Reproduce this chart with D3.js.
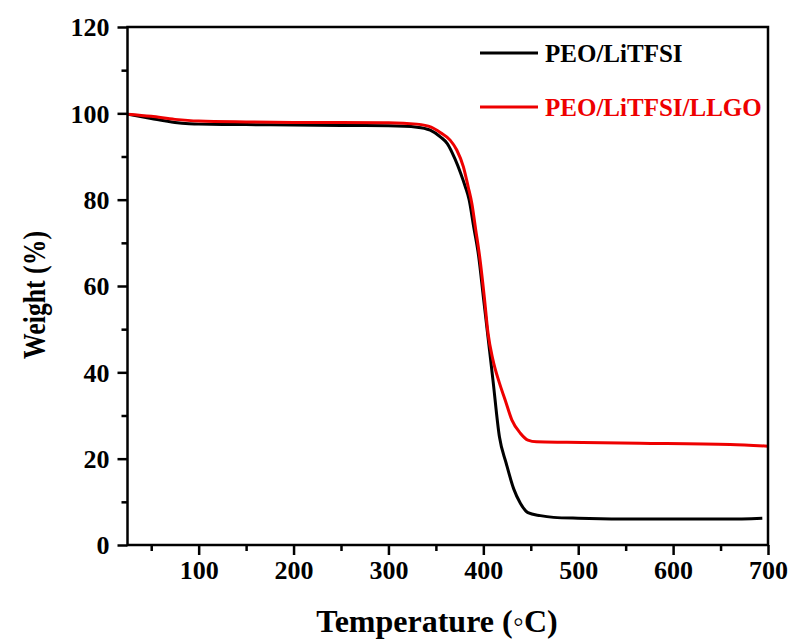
<!DOCTYPE html>
<html>
<head>
<meta charset="utf-8">
<script src="https://cdn.jsdelivr.net/npm/d3@7"></script>
<style>
  html, body { margin: 0; padding: 0; background: #fff; }
  svg text { font-family: "Liberation Serif", "Times New Roman", serif; font-weight: bold; }
</style>
</head>
<body>
<svg id="chart" width="798" height="641"></svg>
<script>
// ---- data ----
const seriesNames = ["PEO/LiTFSI", "PEO/LiTFSI/LLGO"];
const seriesColors = ["#000000", "#ee0000"];

const peoTemp   = [25, 50, 75, 90, 100, 150, 200, 250, 300, 330, 344, 355, 362, 370, 376, 381, 385, 390, 395, 400, 405, 410, 417, 424, 432, 439, 447, 460, 474, 500, 570, 657, 694];
const peoWeight = [99.8, 98.8, 97.9, 97.6, 97.5, 97.4, 97.3, 97.2, 97.1, 96.8, 96.1, 94.5, 93.0, 89.5, 86.2, 83.0, 80.0, 73.5, 67.0, 57.5, 48.0, 38.5, 25.0, 19.0, 13.0, 9.7, 7.5, 6.8, 6.4, 6.2, 6.0, 6.0, 6.2];

const llgoTemp   = [25, 50, 75, 100, 150, 200, 250, 300, 330, 345, 355, 365, 372, 379, 384, 388, 392, 396, 401, 405, 410, 417, 423, 430, 439, 447, 456, 488, 565, 660, 700];
const llgoWeight = [99.8, 99.3, 98.6, 98.2, 98.0, 97.9, 97.85, 97.8, 97.5, 96.8, 95.5, 93.8, 91.5, 87.6, 83.0, 79.0, 73.0, 67.0, 57.5, 49.0, 43.0, 37.5, 33.6, 29.0, 25.9, 24.3, 23.9, 23.8, 23.6, 23.3, 22.9];

const xTicks = [100, 200, 300, 400, 500, 600, 700];
const xMinorTicks = [50, 150, 250, 350, 450, 550, 650];
const yTicks = [0, 20, 40, 60, 80, 100, 120];
const yMinorTicks = [10, 30, 50, 70, 90, 110];
const xDomain = [25, 700];
const yDomain = [0, 120];
const xTitle = "Temperature (\u25E6C)";
const yTitle = "Weight (%)";

// ---- layout ----
const svg = d3.select("#chart");
const plot = { left: 127.5, right: 768, top: 27, bottom: 545 };

const x = d3.scaleLinear().domain(xDomain).range([plot.left, plot.right]);
const y = d3.scaleLinear().domain(yDomain).range([plot.bottom, plot.top]);

// lines
const series = [
  { name: seriesNames[0], color: seriesColors[0], data: peoTemp.map((t, i) => ({ t, w: peoWeight[i] })) },
  { name: seriesNames[1], color: seriesColors[1], data: llgoTemp.map((t, i) => ({ t, w: llgoWeight[i] })) }
];
const line = d3.line().x(d => x(d.t)).y(d => y(d.w)).curve(d3.curveMonotoneX);

svg.append("g").selectAll("path").data(series).join("path")
  .attr("d", d => line(d.data))
  .attr("fill", "none")
  .attr("stroke", d => d.color)
  .attr("stroke-width", 3)
  .attr("stroke-linejoin", "round");

// axes
function styleAxis(g) {
  g.selectAll(".domain").remove();
  g.selectAll("line").attr("stroke", "#000").attr("stroke-width", 2.5);
  g.selectAll("text").attr("fill", "#000").style("font-size", "26px");
}

svg.append("g").attr("transform", `translate(0,${plot.bottom})`)
  .call(d3.axisBottom(x).tickValues(xTicks).tickSize(10).tickPadding(6).tickFormat(d3.format("d")))
  .call(styleAxis);
svg.append("g").attr("transform", `translate(0,${plot.bottom})`)
  .call(d3.axisBottom(x).tickValues(xMinorTicks).tickSize(6).tickFormat(""))
  .call(styleAxis);

const yAxis = svg.append("g").attr("transform", `translate(${plot.left},0)`)
  .call(d3.axisLeft(y).tickValues(yTicks).tickSize(10).tickPadding(8).tickFormat(d3.format("d")))
  .call(styleAxis);
yAxis.selectAll("text").attr("dy", "0.34em");
svg.append("g").attr("transform", `translate(${plot.left},0)`)
  .call(d3.axisLeft(y).tickValues(yMinorTicks).tickSize(6).tickFormat(""))
  .call(styleAxis);

// frame
svg.append("rect")
  .attr("x", plot.left).attr("y", plot.top)
  .attr("width", plot.right - plot.left).attr("height", plot.bottom - plot.top)
  .attr("fill", "none").attr("stroke", "#000").attr("stroke-width", 2.5);

// titles
svg.append("text")
  .attr("x", 437).attr("y", 632)
  .attr("text-anchor", "middle")
  .style("font-size", "32px")
  .text(xTitle);

svg.append("text")
  .attr("transform", "translate(45,295) rotate(-90)")
  .attr("text-anchor", "middle")
  .attr("textLength", 128)
  .attr("lengthAdjust", "spacingAndGlyphs")
  .style("font-size", "31px")
  .text(yTitle);

// legend
const legend = svg.append("g");
const legendY = [53, 107];
series.forEach((s, i) => {
  legend.append("line")
    .attr("x1", 480).attr("x2", 538)
    .attr("y1", legendY[i]).attr("y2", legendY[i])
    .attr("stroke", s.color).attr("stroke-width", 2.8);
  legend.append("text")
    .attr("x", 545).attr("y", legendY[i] + 9)
    .attr("fill", s.color)
    .style("font-size", "25px")
    .text(s.name);
});
</script>
</body>
</html>
